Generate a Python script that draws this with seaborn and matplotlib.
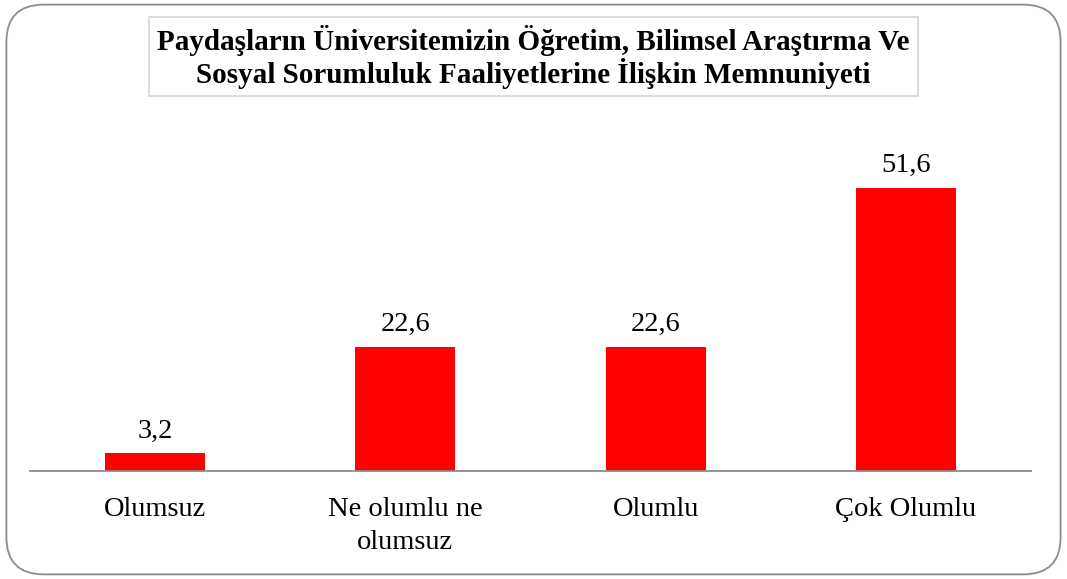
import matplotlib
matplotlib.use("Agg")
import matplotlib.pyplot as plt
import seaborn as sns
import pandas as pd
from matplotlib.patches import FancyBboxPatch

categories = ["Olumsuz", "Ne olumlu ne\nolumsuz", "Olumlu", "Çok Olumlu"]
values = [3.2, 22.6, 22.6, 51.6]
value_labels = ["3,2", "22,6", "22,6", "51,6"]
title = "Paydaşların Üniversitemizin Öğretim, Bilimsel Araştırma Ve\nSosyal Sorumluluk Faaliyetlerine İlişkin Memnuniyeti"

sns.set_theme(style="white")
plt.rcParams['font.family'] = ['Liberation Serif', 'DejaVu Serif']
plt.rcParams['text.color'] = 'black'
plt.rcParams['xtick.color'] = 'black'

df = pd.DataFrame({"cat": categories, "val": values})

fig = plt.figure(figsize=(10.67, 5.79), dpi=100)
ax = fig.add_axes([0.0281, 0.1865, 0.9382, 0.5682])

sns.barplot(data=df, x="cat", y="val", color="#FF0000", width=0.4,
            saturation=1, ax=ax, edgecolor="none")

ax.set_ylim(0, 60)
ax.set_xlim(-0.5, 3.5)
ax.set_xlabel("")
ax.set_ylabel("")
ax.set_yticks([])
for s in ["top", "right", "left"]:
    ax.spines[s].set_visible(False)
ax.spines["bottom"].set_color("#8c8c8c")
ax.spines["bottom"].set_linewidth(1.3)
ax.tick_params(axis="x", length=0, pad=19, labelsize=20.5, labelcolor="black")
for lab in ax.get_xticklabels():
    lab.set_linespacing(1.4)

for c in ax.containers:
    ax.bar_label(c, labels=value_labels, padding=7, fontsize=20.5, color="black")

fig.text(0.5, 0.9575, title, ha="center", va="top", fontsize=21,
         fontweight="bold", linespacing=1.08, color="black",
         bbox=dict(boxstyle="square,pad=0.27", facecolor="white",
                   edgecolor="#d9d9d9", linewidth=1.3))

border = FancyBboxPatch((0.006, 0.008), 0.988, 0.984,
                        boxstyle="round,pad=0,rounding_size=0.035",
                        transform=fig.transFigure, facecolor="none",
                        edgecolor="#8c8c8c", linewidth=1.3,
                        mutation_aspect=1.84)
fig.patches.append(border)

fig.savefig("out.png", dpi=100)
